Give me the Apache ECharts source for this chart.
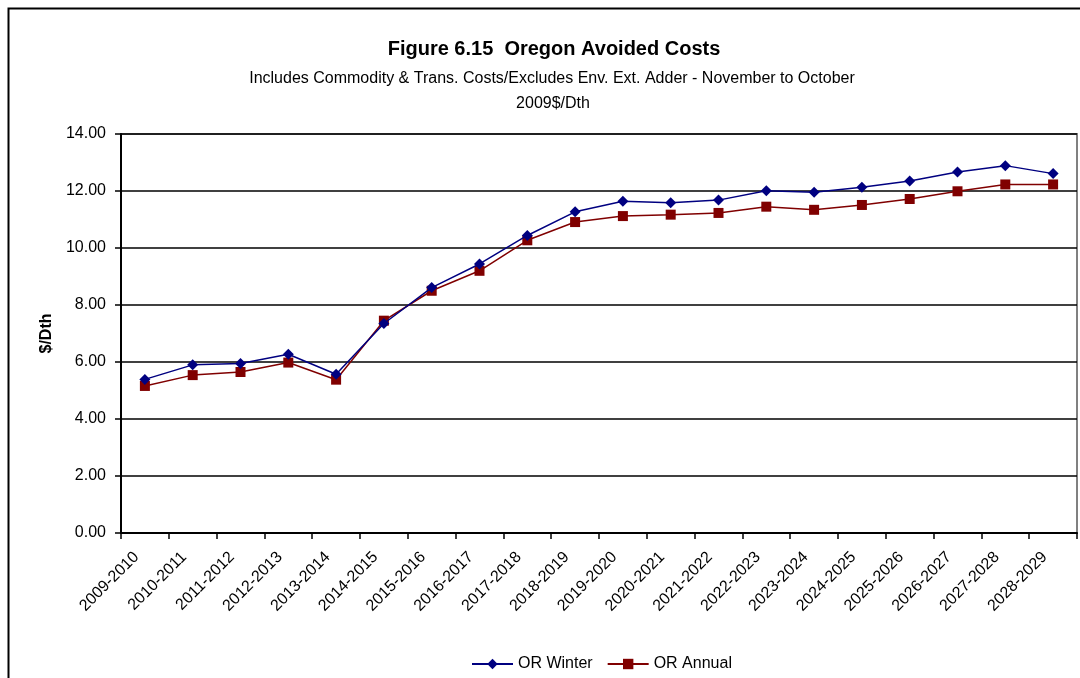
<!DOCTYPE html>
<html><head><meta charset="utf-8">
<script src="https://cdn.jsdelivr.net/npm/echarts@6/dist/echarts.min.js"></script>
<style>html,body{margin:0;padding:0;background:#fff}#c{width:1080px;height:678px}</style>
</head><body><div id="c"></div>
<script>
const categories = ['2009-2010','2010-2011','2011-2012','2012-2013','2013-2014','2014-2015','2015-2016','2016-2017','2017-2018','2018-2019','2019-2020','2020-2021','2021-2022','2022-2023','2023-2024','2024-2025','2025-2026','2026-2027','2027-2028','2028-2029'];
const orWinter = [5.39,5.90,5.95,6.27,5.57,7.35,8.61,9.44,10.44,11.27,11.64,11.59,11.68,12.01,11.96,12.13,12.35,12.67,12.89,12.61];
const orAnnual = [5.16,5.54,5.65,5.98,5.38,7.45,8.50,9.20,10.27,10.91,11.12,11.17,11.23,11.45,11.34,11.51,11.72,11.99,12.23,12.23];
const yTicks = {min:0, max:14, interval:2};

const FF = '"Liberation Sans", Arial, sans-serif';
const chart = echarts.init(document.getElementById('c'), null, {renderer:'canvas'});
chart.setOption({
  animation:false,
  backgroundColor:'#fff',
  graphic:[{type:'rect', shape:{x:8.5,y:8.5,width:1100,height:700}, style:{fill:'none', stroke:'#000', lineWidth:2}, silent:true}],
  title:[
    {text:'Figure 6.15  Oregon Avoided Costs', left:549, top:34, textAlign:'center',
     textStyle:{fontFamily:FF, fontWeight:'bold', fontSize:20, color:'#000'}},
    {text:'Includes Commodity & Trans. Costs/Excludes Env. Ext. Adder - November to October', left:547, top:66, textAlign:'center',
     textStyle:{fontFamily:FF, fontWeight:'normal', fontSize:16, color:'#000'}},
    {text:'2009$/Dth', left:548, top:91, textAlign:'center',
     textStyle:{fontFamily:FF, fontWeight:'normal', fontSize:16, color:'#000'}}
  ],
  grid:{left:121, right:3, top:134, bottom:145, show:true, borderColor:'#808080', borderWidth:2, containLabel:false},
  legend:{top:651, left:466, itemGap:14, itemWidth:41, itemHeight:13,
    textStyle:{fontFamily:FF, fontSize:16, color:'#000'},
    data:['OR Winter','OR Annual']},
  xAxis:{type:'category', data:categories, boundaryGap:true,
    axisLine:{lineStyle:{color:'#000', width:2}},
    axisTick:{show:true, alignWithLabel:false, length:6, lineStyle:{color:'#000', width:1.5}},
    axisLabel:{rotate:45, interval:0, fontFamily:FF, fontSize:16, color:'#000', margin:13, padding:[0,12,0,0]},
    splitLine:{show:false}},
  yAxis:{type:'value', min:yTicks.min, max:yTicks.max, interval:yTicks.interval,
    name:'$/Dth', nameLocation:'middle', nameGap:66, nameRotate:90,
    nameTextStyle:{fontFamily:FF, fontWeight:'bold', fontSize:16, color:'#000'},
    axisLine:{show:true, lineStyle:{color:'#000', width:2}},
    axisTick:{show:true, length:6, lineStyle:{color:'#000', width:1.5}},
    axisLabel:{formatter:v=>v.toFixed(2), fontFamily:FF, fontSize:16, color:'#000', margin:15},
    splitLine:{show:true, lineStyle:{color:'#000', width:1.5}}},
  series:[
    {name:'OR Winter', type:'line', data:orWinter, symbol:'diamond', symbolSize:11,
     lineStyle:{color:'#000080', width:1.5}, itemStyle:{color:'#000080'}, z:3},
    {name:'OR Annual', type:'line', data:orAnnual, symbol:'rect', symbolSize:10,
     lineStyle:{color:'#800000', width:1.5}, itemStyle:{color:'#800000'}, z:2}
  ]
});
</script></body></html>
